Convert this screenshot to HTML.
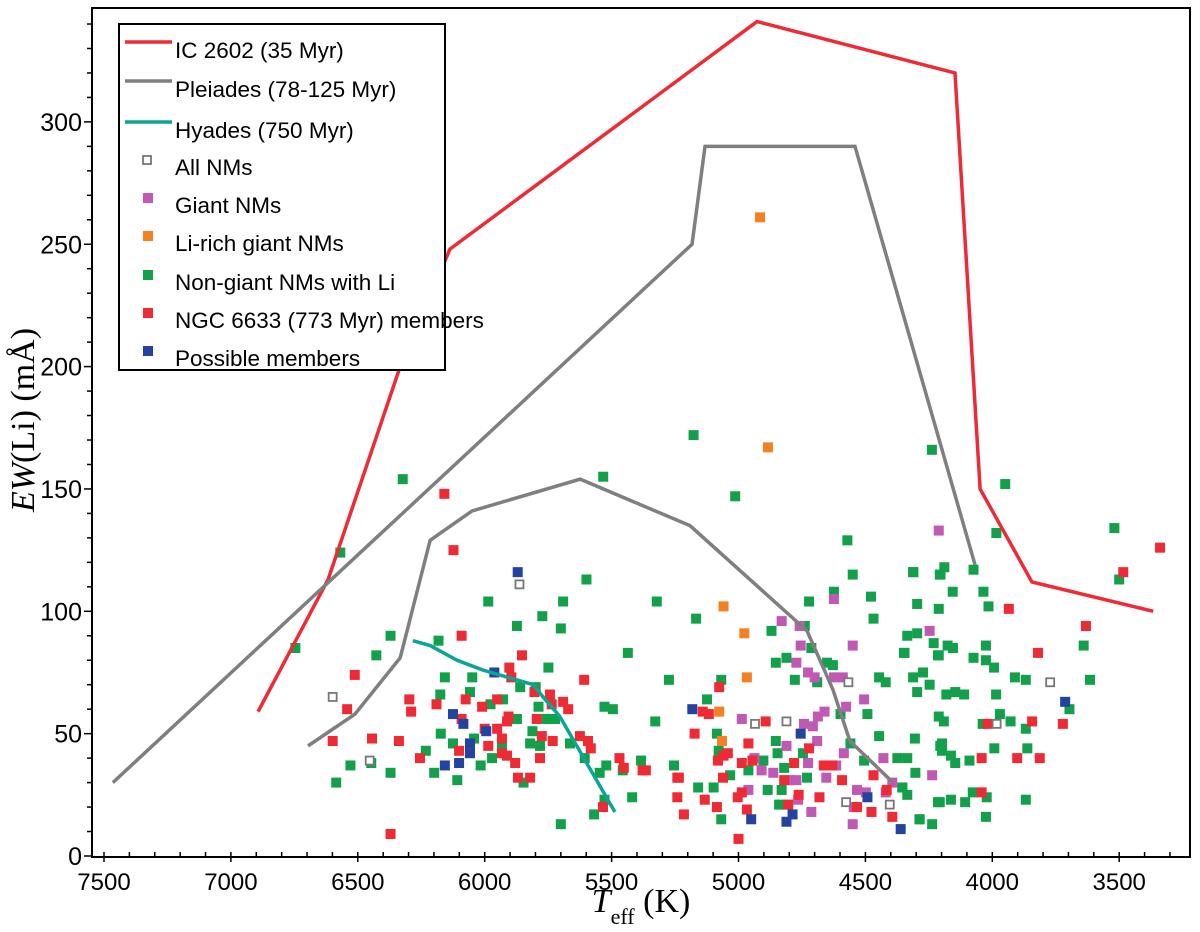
<!DOCTYPE html>
<html><head><meta charset="utf-8"><style>
html,body{margin:0;padding:0;background:#fff;}
svg{display:block;font-family:"Liberation Sans",sans-serif;}
</style></head><body>
<svg id="chart" width="1200" height="932" viewBox="0 0 1200 932" xmlns="http://www.w3.org/2000/svg"></svg>
<script>
// axis ticks
const xTicks=[7500,7000,6500,6000,5500,5000,4500,4000,3500];
const yTicks=[0,50,100,150,200,250,300];
// model curves
const ic2602T=[6893,6617,6333,6137,4927,4147,4048,3844,3366];
const ic2602EW=[59,113,200,248,341,320,150,112,100];
const pleiUpT=[7465,5183,5132,4541,4068];
const pleiUpEW=[30,250,290,290,119];
const pleiLoT=[6696,6511,6333,6215,6050,5624,5191,4730,4628,4561,4391];
const pleiLoEW=[45,58,81,129,141,154,135,92,68,47,30];
const hyadesT=[6283,6215,6109,6007,5809,5770,5704,5487];
const hyadesEW=[88,86,80,76,70,65,57,18];
// scatter data [Teff, EW]
const allNMs=[[5863,111],[6599,65],[6453,39],[4935,54],[4811,55],[4567,71],[4576,22],[4404,21],[3772,71],[3983,54]];
const giantNMs=[[4624,105],[4830,96],[4759,94],[4755,86],[4550,86],[4772,79],[4726,75],[4700,73],[4624,73],[4589,73],[4505,64],[4576,61],[4661,59],[4687,57],[4742,54],[4707,53],[4987,56],[4811,45],[4690,47],[4585,42],[4726,38],[4615,37],[4654,32],[4772,31],[4798,31],[4863,34],[4909,35],[4937,40],[4961,27],[4765,23],[4713,18],[4533,27],[4498,26],[4429,40],[4394,30],[4420,26],[4546,20],[4550,13],[4247,92],[4237,33],[4211,133]];
const liRich=[[5059,102],[4977,91],[4967,73],[5076,59],[5065,47],[4915,261],[4884,167]];
const nonGiant=[[6746,85],[6371,90],[6427,82],[6182,88],[6157,73],[6049,73],[6058,67],[6175,66],[6173,50],[6125,46],[6042,48],[6232,43],[6199,34],[6108,31],[6016,37],[5971,40],[5977,62],[5928,64],[5873,56],[5812,51],[5821,46],[5782,45],[5788,61],[5749,77],[5860,69],[5799,69],[5756,56],[5723,56],[5664,46],[5606,40],[5528,61],[5495,60],[5547,34],[5521,37],[5384,39],[5456,35],[5419,24],[5528,23],[5569,17],[5700,13],[5847,30],[6447,38],[6529,37],[6371,34],[6585,30],[5599,113],[5986,104],[5691,104],[5773,98],[5873,94],[5700,93],[5436,83],[5932,45],
[5322,104],[5167,97],[5274,72],[5068,72],[5124,64],[5328,55],[5085,50],[5078,43],[5254,37],[5159,28],[5098,28],[5033,33],[5068,15],[4961,35],[4902,39],[4870,92],[4853,79],[4811,81],[4778,72],[4739,94],[4722,104],[4713,85],[4690,71],[4651,79],[4628,78],[4624,108],[4550,115],[4478,106],[4468,97],[4335,90],[4296,91],[4312,116],[4296,103],[4207,115],[4211,101],[4231,87],[4211,82],[4346,83],[4446,73],[4420,71],[4312,73],[4273,75],[4247,70],[4296,67],[4492,58],[4598,58],[4559,46],[4853,47],[4846,42],[4820,36],[4746,42],[4730,32],[4830,27],[4885,27],[4840,21],[4505,39],[4446,49],[4374,40],[4335,40],[4303,34],[4355,28],[4335,25],[4211,57],[4205,45],[4207,22],[4286,15],[4237,13],
[4311,116],[4204,115],[4189,118],[4074,117],[4156,108],[4035,108],[4015,102],[4176,86],[4155,85],[4348,83],[4214,82],[4025,86],[4074,81],[4025,80],[3993,77],[4181,66],[4146,67],[4111,66],[3985,66],[3911,73],[3868,72],[3615,72],[3640,86],[3500,113],[3696,60],[4191,55],[3970,58],[3928,55],[4038,54],[3868,52],[4305,48],[4198,46],[4198,43],[4163,41],[4146,38],[4090,39],[3992,44],[3862,44],[4354,28],[4214,22],[4163,23],[4107,22],[4077,26],[4022,24],[3868,23],[4025,16],[4287,15],
[6323,154],[5533,155],[5177,172],[5013,147],[4238,166],[3949,152],[3984,132],[3519,134],[6569,124],[4571,129]];
const ngc6633=[[6091,90],[5853,82],[6512,74],[5903,77],[5895,73],[5608,72],[6297,64],[6290,59],[6190,62],[6075,64],[6010,61],[5951,64],[6542,60],[6091,56],[5906,57],[5912,55],[5804,67],[5743,66],[5736,62],[5691,63],[5671,60],[5795,56],[6000,52],[5951,52],[5932,48],[5986,45],[6101,43],[5932,42],[5912,41],[5880,38],[5775,49],[5782,40],[5732,47],[5625,49],[5593,47],[5582,44],[6599,47],[6444,48],[6338,47],[6255,40],[5869,32],[5821,32],[5469,40],[5452,36],[5378,35],[5534,20],[6371,9],
[5076,69],[5141,59],[5117,58],[5173,50],[5365,35],[5241,32],[5235,32],[5241,24],[5133,23],[5215,17],[5085,20],[5061,32],[5081,39],[5059,41],[5042,42],[4961,46],[4987,38],[4945,39],[5003,24],[4987,26],[4967,19],[5000,7],[4893,55],[4781,38],[4722,44],[4820,31],[4763,25],[4804,21],[4681,24],[4664,37],[4631,37],[4592,31],[4533,20],[4476,18],[4468,33],[4416,27],[4394,16],
[3484,116],[3935,101],[3631,94],[3820,83],[4018,54],[3843,55],[3722,54],[4042,40],[3902,40],[3813,40],[4042,26],[6159,148],[6123,125],[3339,126]];
const possible=[[5870,116],[5962,75],[6125,58],[6084,54],[5994,51],[6058,46],[6058,42],[6101,38],[6157,37],[5182,60],[4755,50],[4950,15],[4787,17],[4811,14],[4492,24],[4361,11],[3713,63]];

const NS="http://www.w3.org/2000/svg";
const svg=document.getElementById('chart');
const X0=104,XS=0.2538,Y0=856,YS=2.447;
function xs(t){return X0+(7500-t)*XS;}
function ys(v){return Y0-v*YS;}
function mk(tag,attrs,parent){const e=document.createElementNS(NS,tag);for(const k in attrs)e.setAttribute(k,attrs[k]);(parent||svg).appendChild(e);return e;}

const L=92,R=1190,T=8,B=857;

function curve(ts,vs,color,name){
  const p=ts.map((t,i)=>xs(t)+','+ys(vs[i])).join(' ');
  const e=mk('polyline',{points:p,fill:'none',stroke:color,'stroke-width':3.5,'stroke-linejoin':'miter'});
  
  
}
function scatter(arr,color,name,open){
  const g=mk('g',{});
  
  
  arr.forEach(d=>{
    let e;
    if(open) e=mk('rect',{x:xs(d[0])-4,y:ys(d[1])-4,width:8,height:8,fill:'#fff',stroke:'#777','stroke-width':1.8},g);
    else e=mk('rect',{x:xs(d[0])-5,y:ys(d[1])-5,width:10,height:10,fill:color},g);
    
    
  });
}
scatter(nonGiant,'#12a04a','non-giant-nms-series');
scatter(giantNMs,'#c059b4','giant-nms-series');
scatter(ngc6633,'#ee2a35','ngc6633-members-series');
scatter(liRich,'#f58024','li-rich-giants-series');
scatter(possible,'#2443a0','possible-members-series');
scatter(allNMs,'#777','all-nms-series',true);
curve(ic2602T,ic2602EW,'#ee2a35','ic2602-curve');
curve(pleiUpT,pleiUpEW,'#7f7f7f','pleiades-upper-curve');
curve(pleiLoT,pleiLoEW,'#7f7f7f','pleiades-lower-curve');
curve(hyadesT,hyadesEW,'#0aa596','hyades-curve');

const frame=mk('rect',{x:L,y:T,width:R-L,height:B-T,fill:'none',stroke:'#000','stroke-width':2});



const axG=mk('g',{});


for(let t=7500;t>=3200;t-=100){
  const x=xs(t);if(x<L||x>R)continue;
  const major=(t%500===0);
  mk('line',{x1:x,x2:x,y1:major?B+5:B,y2:B-5,stroke:'#000','stroke-width':1.5},axG);
}
xTicks.forEach(t=>{
  const e=mk('text',{x:xs(t),y:B+33,'text-anchor':'middle','font-size':24},axG);
  e.textContent=t;
  
  
});
for(let v=0;v<=340;v+=10){
  const y=ys(v);
  const major=(v%50===0);
  mk('line',{x1:L,x2:L-(major?8:5),y1:y,y2:y,stroke:'#000','stroke-width':1.5},axG);
}
yTicks.forEach(v=>{
  const e=mk('text',{x:L-10,y:ys(v)+9,'text-anchor':'end','font-size':25},axG);
  e.textContent=v;
  
  
});
const xt=mk('text',{x:641,y:912,'text-anchor':'middle','font-size':34,'font-family':'Liberation Serif, serif'});
xt.innerHTML='<tspan font-style="italic">T</tspan><tspan font-size="22" dy="12">eff</tspan><tspan dy="-12"> (K)</tspan>';


const yt=mk('text',{x:0,y:0,'text-anchor':'middle','font-size':34,'font-family':'Liberation Serif, serif',transform:'translate(34,420) rotate(-90)'});
yt.innerHTML='<tspan font-style="italic">EW</tspan>(Li) (mÅ)';



// legend
const lg=mk('g',{});


mk('rect',{x:119,y:24,width:326,height:346,fill:'#fff',stroke:'#000','stroke-width':2},lg);
const items=[['IC 2602 (35 Myr)','line','#ee2a35',50],['Pleiades (78-125 Myr)','line','#7f7f7f',89],['Hyades (750 Myr)','line','#0aa596',130],['All NMs','open','#777',167],['Giant NMs','sq','#c059b4',205],['Li-rich giant NMs','sq','#f58024',243],['Non-giant NMs with Li','sq','#12a04a',282],['NGC 6633 (773 Myr) members','sq','#ee2a35',320],['Possible members','sq','#2443a0',358]];
items.forEach(it=>{
  const g=mk('g',{},lg);
  
  
  const yy=it[3];
  if(it[1]==='line') mk('line',{x1:125,x2:172,y1:yy-8,y2:yy-8,stroke:it[2],'stroke-width':3.5},g);
  else if(it[1]==='open') mk('rect',{x:143,y:yy-11,width:8,height:8,fill:'#fff',stroke:it[2],'stroke-width':1.8},g);
  else mk('rect',{x:143,y:yy-12,width:10,height:10,fill:it[2]},g);
  const t=mk('text',{x:175,y:yy+8,'font-size':22.5},g);
  t.textContent=it[0];
});
</script>
</body></html>
